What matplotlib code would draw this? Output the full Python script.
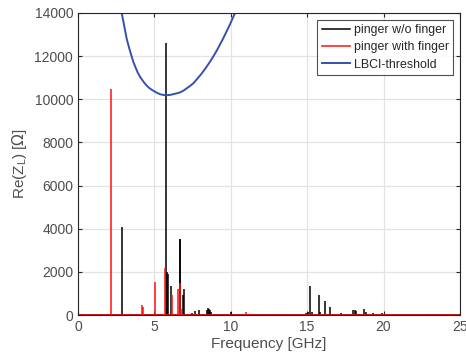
import numpy as np
import matplotlib
matplotlib.use("Agg")
import matplotlib.pyplot as plt

# --- data ---
f_max = 25.0
# pinger w/o finger: resonance spikes (GHz, Ohm)
nofinger_f = [2.88, 5.76, 5.80, 5.86, 6.10, 6.66, 6.70, 6.85, 6.94, 7.45, 7.66, 7.94,
              8.42, 8.50, 8.56, 8.64, 8.72, 10.0, 12.3, 14.9, 15.05, 15.18, 15.32,
              15.80, 15.86, 16.14, 16.50, 17.2, 18.02, 18.10, 18.18, 18.70, 18.85,
              19.30, 19.90, 22.9, 23.6]
nofinger_z = [4100, 12600, 2000, 1900, 1340, 3540, 3540, 930, 1200, 80, 190, 230,
              250, 310, 300, 250, 150, 160, 60, 80, 120, 1360, 150,
              930, 120, 650, 350, 70, 230, 220, 200, 300, 150,
              90, 110, 50, 40]
# pinger with finger
finger_f = [2.14, 2.90, 4.20, 4.28, 5.02, 5.67, 6.17, 6.45, 6.57, 6.67, 6.75, 11.0, 13.4]
finger_z = [10460, 60, 450, 380, 1540, 2160, 930, 60, 1200, 1470, 300, 150, 50]
# LBCI threshold curve samples
thr_f = [2.70, 2.78, 2.86, 2.93, 3.00, 3.09, 3.18, 3.29, 3.40, 3.51, 3.62, 3.76,
         3.90, 4.08, 4.28, 4.46, 4.65, 4.85, 5.04, 5.22, 5.40, 5.60, 5.80, 6.00,
         6.20, 6.44, 6.68, 6.90, 7.10, 7.32, 7.55, 7.82, 8.10, 8.37, 8.64, 8.87,
         9.10, 9.30, 9.51, 9.70, 9.90, 10.09, 10.28, 10.50]
thr_z = [14700, 14340, 14000, 13740, 13500, 13160, 12830, 12530, 12250, 11990,
         11740, 11490, 11250, 11020, 10820, 10660, 10530, 10430, 10350, 10280,
         10230, 10200, 10190, 10200, 10230, 10270, 10320, 10400, 10500, 10610,
         10740, 10960, 11200, 11460, 11740, 12000, 12280, 12550, 12830, 13110,
         13400, 13700, 14000, 14350]

xticks = [0, 5, 10, 15, 20, 25]
yticks = [0, 2000, 4000, 6000, 8000, 10000, 12000, 14000]

plt.rcParams['font.family'] = ['Liberation Sans', 'DejaVu Sans']
fig = plt.figure(figsize=(4.66, 3.64), dpi=100)
ax = fig.add_axes([0.1674, 0.1346, 0.8196, 0.8297])

blue = '#3552a8'
# baselines
ax.plot([0, f_max], [0, 0], color='black', lw=1.1, label='pinger w/o finger')
ax.vlines(nofinger_f, 0, nofinger_z, color='black', lw=1.1)
ax.plot([0, f_max], [0, 0], color='#ff1010', lw=1.1, label='pinger with finger')
ax.vlines(finger_f, 0, finger_z, color='#ff1010', lw=1.1)
ax.plot(thr_f, thr_z, color=blue, lw=1.4, label='LBCI-threshold')

ax.set_xlim(0, 25)
ax.set_ylim(0, 14000)
ax.set_xticks(xticks)
ax.set_yticks(yticks)
ax.grid(True, color='#e3e3e3', lw=0.9)
ax.set_axisbelow(True)
ax.tick_params(direction='in', length=3, colors='#262626', labelcolor='#4d4d4d',
               labelsize=10, top=True, right=True)
for s in ax.spines.values():
    s.set_color('#262626')
    s.set_linewidth(0.8)

ax.set_xlabel('Frequency [GHz]', fontsize=11, color='#4d4d4d', labelpad=2)
ax.set_ylabel(r'Re(Z$_\mathregular{L}$) [$\Omega$]', fontsize=11, color='#4d4d4d', labelpad=4)

leg = ax.legend(loc='upper right', fontsize=8.9, frameon=True, fancybox=False,
                edgecolor='#262626', borderpad=0.35, labelspacing=0.42,
                handlelength=2.3, handletextpad=0.3, borderaxespad=0.55)
leg.get_frame().set_linewidth(0.8)
for t in leg.get_texts():
    t.set_color('#262626')

fig.savefig('out.png', dpi=100)
